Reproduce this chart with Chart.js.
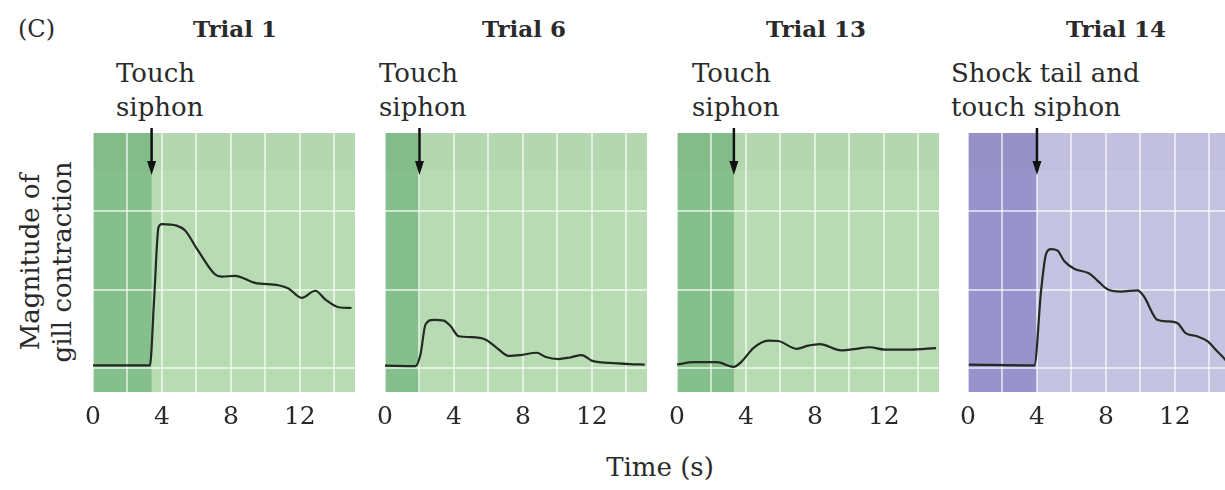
<!DOCTYPE html>
<html>
<head>
<meta charset="utf-8">
<script src="https://cdn.jsdelivr.net/npm/chart.js@4.4.1/dist/chart.umd.min.js"></script>
<style>
  html, body { margin: 0; padding: 0; background: #fff; width: 1225px; height: 490px; overflow: hidden; position: relative; }
  .t { position: absolute; font-family: "DejaVu Serif", serif; color: #2a2a2a; white-space: nowrap; }
  .title { font-weight: bold; font-size: 23px; top: 15px; transform: translateX(-50%); }
  .ann { font-size: 26px; line-height: 34px; top: 56px; }
  canvas { position: absolute; }
</style>
</head>
<body>
<div class="t" style="left:18px;top:15px;font-size:24px;">(C)</div>
<div class="t title" style="left:235px;">Trial 1</div>
<div class="t title" style="left:524px;">Trial 6</div>
<div class="t title" style="left:816px;">Trial 13</div>
<div class="t title" style="left:1116px;">Trial 14</div>
<div class="t ann" style="left:116px;">Touch<br>siphon</div>
<div class="t ann" style="left:379px;">Touch<br>siphon</div>
<div class="t ann" style="left:692px;">Touch<br>siphon</div>
<div class="t ann" style="left:951px;">Shock tail and<br>touch siphon</div>
<div class="t" style="left:46px;top:262px;font-size:26px;line-height:32px;text-align:center;transform:translate(-50%,-50%) rotate(-90deg);">Magnitude of<br>gill contraction</div>
<div class="t" style="left:660px;top:452px;font-size:26px;transform:translateX(-50%);">Time (s)</div>

<canvas id="c1" width="302" height="326" style="left:73px;top:120px;"></canvas>
<canvas id="c2" width="302" height="326" style="left:365px;top:120px;"></canvas>
<canvas id="c3" width="302" height="326" style="left:657px;top:120px;"></canvas>
<canvas id="c4" width="302" height="326" style="left:948px;top:120px;"></canvas>

<script>
// ---- Data ----
const trialNames = ["Trial 1", "Trial 6", "Trial 13", "Trial 14"];
const stimTimes = [3.4, 2.0, 3.3, 4.0];
const xTickLabels = [0, 4, 8, 12];

const trial1Time   = [0, 3.3, 3.55, 3.8, 4.0, 4.85, 5.33, 6.1, 7.07, 7.46, 8.24, 9.4, 10.76, 11.34, 12.1, 12.9, 13.47, 14.24, 15.0];
const trial1Values = [0.04, 0.04, 0.9, 1.8, 1.84, 1.82, 1.76, 1.5, 1.2, 1.17, 1.18, 1.09, 1.06, 1.02, 0.9, 0.99, 0.88, 0.78, 0.77];

const trial6Time   = [0, 1.77, 2.06, 2.35, 2.83, 3.41, 3.8, 4.28, 4.95, 5.82, 6.5, 7.17, 7.84, 8.81, 9.29, 10.06, 10.73, 11.41, 11.99, 13.05, 14.2, 15.07];
const trial6Values = [0.035, 0.03, 0.18, 0.56, 0.62, 0.61, 0.54, 0.41, 0.4, 0.37, 0.26, 0.16, 0.17, 0.2, 0.15, 0.12, 0.14, 0.17, 0.1, 0.07, 0.055, 0.05];

const trial13Time   = [0, 0.96, 2.31, 3.27, 3.76, 4.43, 5.3, 5.87, 6.94, 7.61, 8.28, 9.54, 10.4, 11.17, 12.04, 13.5, 15.03];
const trial13Values = [0.05, 0.08, 0.08, 0.02, 0.09, 0.26, 0.355, 0.35, 0.25, 0.29, 0.31, 0.23, 0.25, 0.27, 0.24, 0.24, 0.26];

const trial14Time   = [0.05, 3.85, 4.24, 4.53, 4.82, 5.2, 5.58, 6.16, 7.03, 7.51, 8.09, 8.86, 9.83, 10.2, 10.98, 11.56, 12.14, 12.62, 13.29, 13.87, 14.45, 14.93, 15.2];
const trial14Values = [0.05, 0.04, 0.99, 1.46, 1.52, 1.5, 1.37, 1.27, 1.21, 1.12, 1.01, 0.98, 0.995, 0.92, 0.62, 0.6, 0.58, 0.45, 0.41, 0.35, 0.22, 0.11, 0.02];

const times = [trial1Time, trial6Time, trial13Time, trial14Time];
const values = [trial1Values, trial6Values, trial13Values, trial14Values];

// ---- Styles ----
const palettes = [
  { light: "#b8dbb3", dark: "#85bf8b" },
  { light: "#b8dbb3", dark: "#85bf8b" },
  { light: "#b8dbb3", dark: "#85bf8b" },
  { light: "#c5c3e2", dark: "#9894cb" }
];

const panelPlugin = {
  id: "panel",
  beforeDraw(chart, args, opts) {
    const { ctx, chartArea: a, scales } = chart;
    const xs = scales.x.getPixelForValue(opts.stim);
    ctx.save();
    ctx.fillStyle = opts.light;
    ctx.fillRect(a.left, a.top, a.right - a.left, a.bottom - a.top);
    ctx.fillStyle = opts.dark;
    ctx.fillRect(a.left, a.top, xs - a.left, a.bottom - a.top);
    ctx.fillStyle = "rgba(90,90,90,0.04)";
    ctx.fillRect(a.left, a.top, a.right - a.left, 37);
    ctx.restore();
  },
  afterDatasetsDraw(chart, args, opts) {
    const { ctx, chartArea: a, scales } = chart;
    const xs = scales.x.getPixelForValue(opts.stim);
    ctx.save();
    ctx.strokeStyle = "#111";
    ctx.fillStyle = "#111";
    ctx.lineWidth = 2.5;
    ctx.beginPath();
    ctx.moveTo(xs, a.top - 5);
    ctx.lineTo(xs, a.top + 32);
    ctx.stroke();
    ctx.beginPath();
    ctx.moveTo(xs - 4.5, a.top + 28);
    ctx.lineTo(xs + 4.5, a.top + 28);
    ctx.lineTo(xs, a.top + 42);
    ctx.closePath();
    ctx.fill();
    ctx.restore();
  }
};

const gridColor = "rgba(255,255,255,0.6)";

for (let i = 0; i < 4; i++) {
  const pts = times[i].map((t, k) => ({ x: t, y: values[i][k] }));
  new Chart(document.getElementById("c" + (i + 1)), {
    type: "line",
    data: {
      datasets: [{
        label: trialNames[i],
        data: pts,
        borderColor: "#222a22",
        borderWidth: 2.2,
        pointRadius: 0,
        tension: 0,
        cubicInterpolationMode: "monotone",
        fill: false
      }]
    },
    options: {
      responsive: false,
      animation: false,
      events: [],
      layout: { padding: { left: 20, right: 20, top: 13, bottom: 4 } },
      plugins: {
        legend: { display: false },
        tooltip: { enabled: false },
        panel: { stim: stimTimes[i], light: palettes[i].light, dark: palettes[i].dark }
      },
      scales: {
        x: {
          type: "linear",
          min: 0,
          max: 15.2,
          afterBuildTicks: (s) => { s.ticks = [0, 2, 4, 6, 8, 10, 12, 14].map(v => ({ value: v })); },
          ticks: {
            padding: 10,
            maxRotation: 0,
            autoSkip: false,
            color: "#2a2a2a",
            font: { family: "DejaVu Serif", size: 25 },
            callback: (v) => xTickLabels.includes(v) ? String(v) : ""
          },
          grid: { color: gridColor, lineWidth: 2, drawTicks: false },
          border: { display: false }
        },
        y: {
          min: -0.3,
          max: 3.0,
          afterBuildTicks: (s) => { s.ticks = [0, 1, 2].map(v => ({ value: v })); },
          ticks: { display: false },
          grid: { color: gridColor, lineWidth: 2, drawTicks: false },
          border: { display: false }
        }
      }
    },
    plugins: [panelPlugin]
  });
}
</script>
</body>
</html>
